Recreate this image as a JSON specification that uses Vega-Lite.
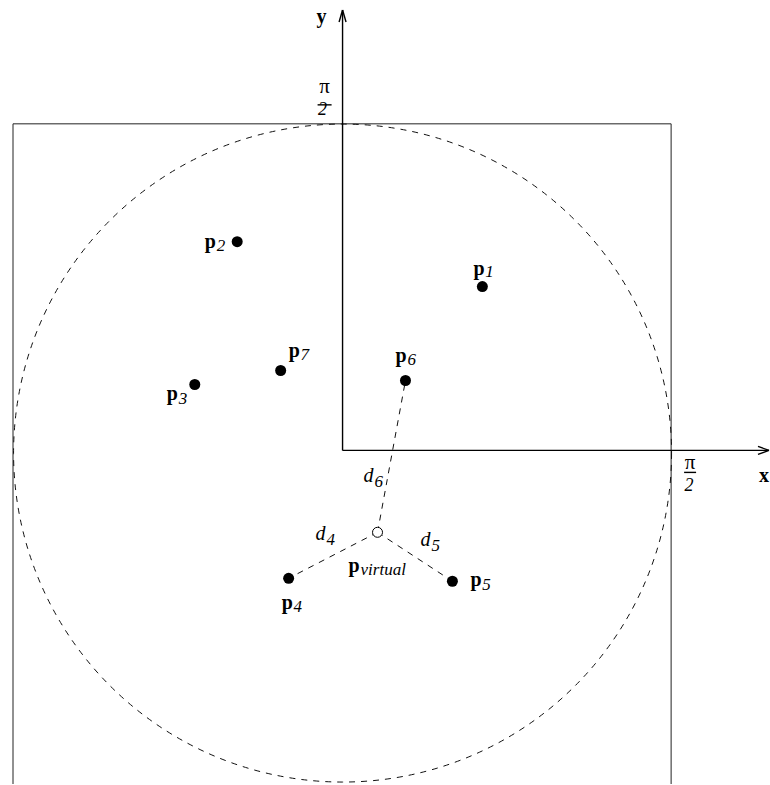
{
  "$schema": "https://vega.github.io/schema/vega-lite/v6.json",
  "width": 770,
  "height": 785,
  "autosize": {"type": "fit", "contains": "padding"},
  "padding": 0,
  "background": "white",
  "config": {"view": {"stroke": null}},
  "datasets": {
    "solid": [
      {"x": 0, "y": 0, "x2": 0, "y2": 1.3404},
      {"x": 0, "y": 0, "x2": 1.2979, "y2": 0},
      {"x": 0, "y": 1.3404, "x2": -0.0106, "y2": 1.304},
      {"x": 0, "y": 1.3404, "x2": 0.0106, "y2": 1.304},
      {"x": 1.2979, "y": 0, "x2": 1.2644, "y2": 0.0122},
      {"x": 1.2979, "y": 0, "x2": 1.2644, "y2": -0.0122},
      {"x": -0.0760, "y": 1.0517, "x2": -0.0334, "y2": 1.0517},
      {"x": 1.0395, "y": -0.0669, "x2": 1.0760, "y2": -0.0669}
    ],
    "box": [
      {"x": -1.003, "y": 0.9939, "x2": -1.003, "y2": -1.0152},
      {"x": 1.0, "y": 0.9939, "x2": 1.0, "y2": -1.0152},
      {"x": -1.003, "y": 0.9939, "x2": 1.0, "y2": 0.9939}
    ],
    "dashed": [
      {"x": 0.1064, "y": -0.2492, "x2": -0.1641, "y2": -0.3891},
      {"x": 0.1064, "y": -0.2492, "x2": 0.3343, "y2": -0.3982},
      {"x": 0.1064, "y": -0.2492, "x2": 0.1915, "y2": 0.2128}
    ],
    "circle": [{"x": 0, "y": -0.008}],
    "dots": [
      {"x": 0.4255, "y": 0.4985, "name": "p1"},
      {"x": -0.3207, "y": 0.6353, "name": "p2"},
      {"x": -0.4498, "y": 0.2006, "name": "p3"},
      {"x": -0.1641, "y": -0.3891, "name": "p4"},
      {"x": 0.3343, "y": -0.3982, "name": "p5"},
      {"x": 0.1915, "y": 0.2128, "name": "p6"},
      {"x": -0.1884, "y": 0.2432, "name": "p7"}
    ],
    "virtual": [{"x": 0.1064, "y": -0.2492, "name": "pvirtual"}],
    "boldLabels": [
      {"x": 0.3982, "y": 0.5350, "t": "p"},
      {"x": -0.4194, "y": 0.6170, "t": "p"},
      {"x": -0.5349, "y": 0.1520, "t": "p"},
      {"x": -0.1854, "y": -0.4833, "t": "p"},
      {"x": 0.3891, "y": -0.4134, "t": "p"},
      {"x": 0.1611, "y": 0.2705, "t": "p"},
      {"x": -0.1641, "y": 0.2857, "t": "p"},
      {"x": 0.0183, "y": -0.3708, "t": "p"},
      {"x": -0.0790, "y": 1.3009, "t": "y"},
      {"x": 1.2675, "y": -0.0973, "t": "x"}
    ],
    "subLabels": [
      {"x": 0.4346, "y": 0.5289, "t": "1"},
      {"x": -0.3830, "y": 0.6079, "t": "2"},
      {"x": -0.4985, "y": 0.1398, "t": "3"},
      {"x": -0.1490, "y": -0.4924, "t": "4"},
      {"x": 0.4255, "y": -0.4255, "t": "5"},
      {"x": 0.1975, "y": 0.2614, "t": "6"},
      {"x": -0.1277, "y": 0.2766, "t": "7"},
      {"x": 0.0547, "y": -0.3799, "t": "virtual"},
      {"x": 0.0973, "y": -0.1125, "t": "6"},
      {"x": -0.0486, "y": -0.2888, "t": "4"},
      {"x": 0.2705, "y": -0.3070, "t": "5"}
    ],
    "dLabels": [
      {"x": 0.0639, "y": -0.0973, "t": "d"},
      {"x": -0.0820, "y": -0.2736, "t": "d"},
      {"x": 0.2371, "y": -0.2918, "t": "d"}
    ],
    "piLabels": [
      {"x": -0.0547, "y": 1.0881, "t": "π"},
      {"x": 1.0578, "y": -0.0578, "t": "π"}
    ],
    "twoLabels": [
      {"x": -0.0608, "y": 1.0213, "t": "2"},
      {"x": 1.0547, "y": -0.1246, "t": "2"}
    ]
  },
  "encoding": {
    "x": {"field": "x", "type": "quantitative", "scale": {"domain": [-1.0426, 1.2979], "nice": false, "zero": false}, "axis": null},
    "y": {"field": "y", "type": "quantitative", "scale": {"domain": [-1.0152, 1.3708], "nice": false, "zero": false}, "axis": null}
  },
  "layer": [
    {
      "data": {"name": "box"},
      "mark": {"type": "rule", "color": "#222", "strokeWidth": 1},
      "encoding": {"x2": {"field": "x2"}, "y2": {"field": "y2"}}
    },
    {
      "data": {"name": "circle"},
      "mark": {"type": "point", "shape": "circle", "filled": false, "size": 432964, "stroke": "#111", "strokeWidth": 1, "strokeDash": [6, 6], "opacity": 1},
      "encoding": {}
    },
    {
      "data": {"name": "solid"},
      "mark": {"type": "rule", "color": "#000", "strokeWidth": 1.4},
      "encoding": {"x2": {"field": "x2"}, "y2": {"field": "y2"}}
    },
    {
      "data": {"name": "dashed"},
      "mark": {"type": "rule", "color": "#111", "strokeWidth": 1, "strokeDash": [6, 6]},
      "encoding": {"x2": {"field": "x2"}, "y2": {"field": "y2"}}
    },
    {
      "data": {"name": "dots"},
      "mark": {"type": "point", "shape": "circle", "filled": true, "size": 121, "color": "#000", "opacity": 1},
      "encoding": {}
    },
    {
      "data": {"name": "virtual"},
      "mark": {"type": "point", "shape": "circle", "filled": true, "size": 100, "fill": "white", "stroke": "#000", "strokeWidth": 1, "opacity": 1},
      "encoding": {}
    },
    {
      "data": {"name": "boldLabels"},
      "mark": {"type": "text", "font": "Liberation Serif", "fontWeight": "bold", "fontSize": 20, "align": "left", "baseline": "alphabetic", "color": "#000"},
      "encoding": {"text": {"field": "t"}}
    },
    {
      "data": {"name": "subLabels"},
      "mark": {"type": "text", "font": "Liberation Serif", "fontStyle": "italic", "fontSize": 17, "align": "left", "baseline": "alphabetic", "color": "#000"},
      "encoding": {"text": {"field": "t"}}
    },
    {
      "data": {"name": "dLabels"},
      "mark": {"type": "text", "font": "Liberation Serif", "fontStyle": "italic", "fontSize": 20, "align": "left", "baseline": "alphabetic", "color": "#000"},
      "encoding": {"text": {"field": "t"}}
    },
    {
      "data": {"name": "piLabels"},
      "mark": {"type": "text", "font": "Liberation Serif", "fontSize": 21, "align": "center", "baseline": "alphabetic", "color": "#000"},
      "encoding": {"text": {"field": "t"}}
    },
    {
      "data": {"name": "twoLabels"},
      "mark": {"type": "text", "font": "Liberation Serif", "fontStyle": "italic", "fontSize": 18, "align": "center", "baseline": "alphabetic", "color": "#000"},
      "encoding": {"text": {"field": "t"}}
    }
  ]
}
